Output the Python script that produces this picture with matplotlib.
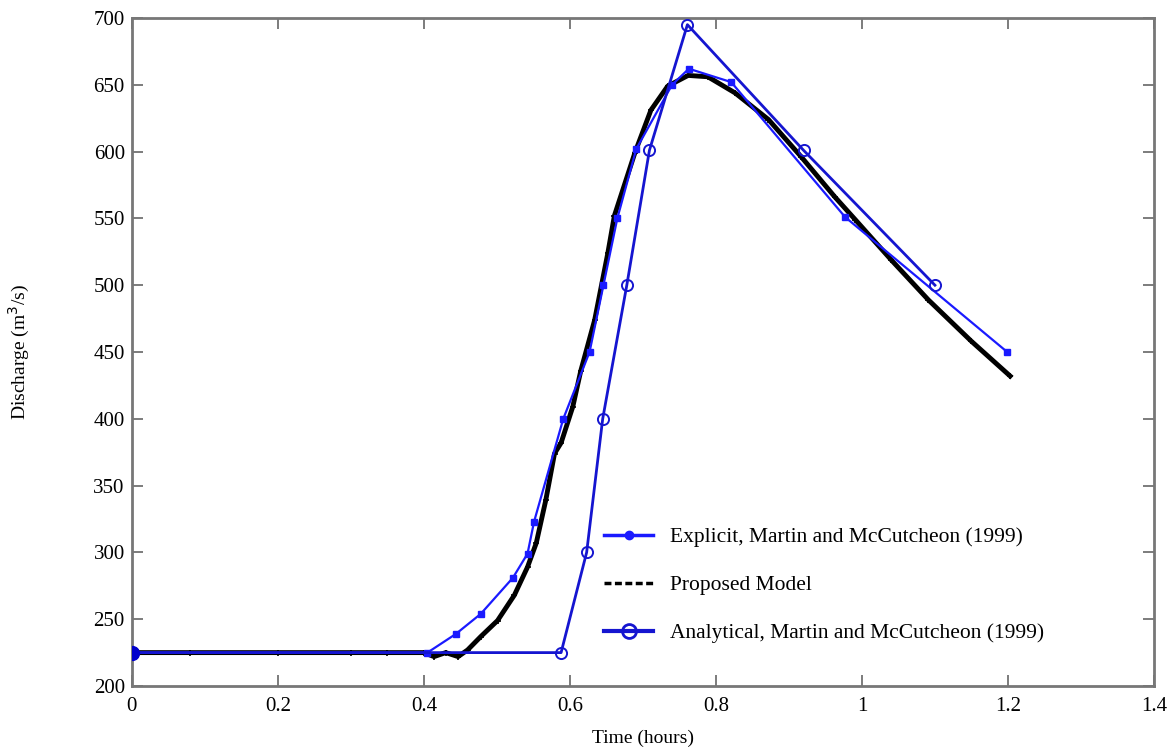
import matplotlib
matplotlib.use("Agg")
import matplotlib.pyplot as plt
from matplotlib.lines import Line2D

# Explicit, Martin and McCutcheon (1999)
exp_t = [0.0, 0.405, 0.444, 0.478, 0.522, 0.542, 0.551, 0.591, 0.627, 0.646, 0.665,
         0.691, 0.740, 0.763, 0.821, 0.977, 1.199]
exp_q = [225, 225, 239, 254, 281, 299, 323, 400, 450, 500, 550,
         602, 650, 662, 652, 551, 450]

# Analytical, Martin and McCutcheon (1999)
ana_t = [0.0, 0.588, 0.623, 0.645, 0.678, 0.709, 0.761, 0.920, 1.100]
ana_q = [225, 225, 300, 400, 500, 601, 695, 601, 500]

# Proposed model
mod_t = [0.0, 0.08, 0.2, 0.3, 0.35, 0.40, 0.414, 0.43, 0.447, 0.46, 0.478, 0.501,
         0.524, 0.542, 0.554, 0.567, 0.579, 0.588, 0.604, 0.615, 0.634, 0.652,
         0.661, 0.689, 0.711, 0.734, 0.762, 0.789, 0.826, 0.872, 0.917, 0.963,
         0.991, 1.04, 1.091, 1.15, 1.203]
mod_q = [225, 225, 225, 225, 225, 225, 222, 225, 222, 227, 237, 249,
         268, 289, 307, 339, 374, 382, 409, 436, 474, 524,
         552, 599, 631, 649, 657, 656, 644, 624, 596, 566,
         549, 519, 489, 458, 432]

xticks = [0, 0.2, 0.4, 0.6, 0.8, 1.0, 1.2, 1.4]
xtick_labels = ["0", "0.2", "0.4", "0.6", "0.8", "1", "1.2", "1.4"]
yticks = [200, 250, 300, 350, 400, 450, 500, 550, 600, 650, 700]

plt.rcParams['font.family'] = ['Liberation Serif', 'DejaVu Serif']

fig = plt.figure(figsize=(11.68, 7.49), dpi=100)
ax = fig.add_axes([0.1128, 0.0841, 0.988 - 0.1128, 0.976 - 0.0841])

ax.plot(mod_t, mod_q, color='black', lw=3.5, marker='+', ms=5, mew=1.2, zorder=3)
ax.plot(exp_t, exp_q, color='#1a1aff', lw=1.6, marker='s', ms=4.5, zorder=4)
ax.plot(ana_t, ana_q, color='#1515d0', lw=2.0, marker='o', ms=8, mfc='none', mew=1.4, zorder=4)
# big dot at origin
ax.plot(exp_t[:1], exp_q[:1], color='#0000cc', marker='o', ms=10, ls='none', zorder=5)

ax.set_xlim(0, 1.4)
ax.set_ylim(200, 700)
ax.set_xticks(xticks)
ax.set_xticklabels(xtick_labels)
ax.set_yticks(yticks)
ax.tick_params(direction='in', length=8, width=1.2, color='#666666', labelsize=15,
               top=True, right=True)
ax.tick_params(axis='x', pad=8)
ax.tick_params(axis='y', pad=5)
for s in ax.spines.values():
    s.set_color('#777777')
    s.set_linewidth(2)

ax.set_xlabel('Time (hours)', fontsize=14, labelpad=10)
ax.set_ylabel('Discharge (m$^3$/s)', fontsize=14, labelpad=44)

handles = [
    Line2D([], [], color='#1a1aff', lw=2.5, marker='o', ms=6),
    Line2D([], [], color='black', lw=2.5, ls=(0, (2, 1))),
    Line2D([], [], color='#1515d0', lw=3, marker='o', ms=10, mfc='none', mew=2),
]
labels = ['Explicit, Martin and McCutcheon (1999)', 'Proposed Model',
          'Analytical, Martin and McCutcheon (1999)']
ax.legend(handles, labels, loc='lower left', bbox_to_anchor=(0.443, 0.035),
          frameon=False, fontsize=15.5, handlelength=2.3, handletextpad=0.75,
          labelspacing=1.3)

fig.savefig('out.png', dpi=100)
